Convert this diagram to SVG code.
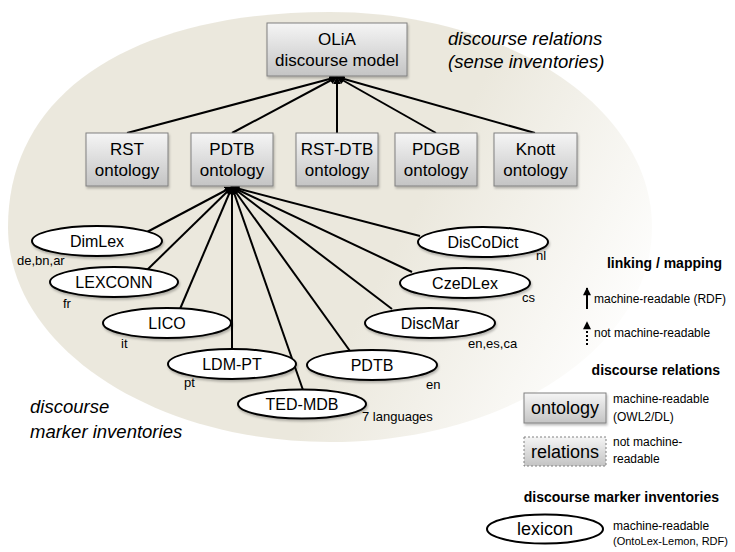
<svg xmlns="http://www.w3.org/2000/svg" width="735" height="552" viewBox="0 0 735 552">
<defs>
<style>
text{font-family:"Liberation Sans",Arial,sans-serif;fill:#000}
.box{fill:url(#boxg);stroke:#808080;stroke-width:1;filter:url(#sh)}
.bt{font-size:17px;text-anchor:middle}
.ell{fill:#fff;stroke:#000;stroke-width:2;filter:url(#sh)}
.et{font-size:16px;text-anchor:middle}
.lang{font-size:13px}
.it{font-size:18.5px;font-style:italic}
.hd{font-size:14px;font-weight:bold;text-anchor:end}
.lg{font-size:12px}
.conn line{stroke:#000;stroke-width:2;marker-end:url(#arr)}
</style>
<linearGradient id="boxg" x1="0" y1="0" x2="0" y2="1">
<stop offset="0" stop-color="#f5f5f5"/>
<stop offset="1" stop-color="#c4c4c4"/>
</linearGradient>
<linearGradient id="bg" gradientUnits="userSpaceOnUse" x1="420" y1="200" x2="650" y2="320">
<stop offset="0" stop-color="#ebe8dd"/>
<stop offset="1" stop-color="#ffffff"/>
</linearGradient>
<filter id="sh" x="-10%" y="-10%" width="130%" height="140%">
<feDropShadow dx="1" dy="2" stdDeviation="1.2" flood-color="#000" flood-opacity="0.25"/>
</filter>
<marker id="arr" viewBox="0 0 10 10" refX="9" refY="5" markerWidth="4" markerHeight="4" orient="auto">
<path d="M0,0 L10,5 L0,10 z" fill="#000"/>
</marker>
<marker id="arrL" viewBox="0 0 10 10" refX="9" refY="5" markerWidth="5" markerHeight="4" orient="auto">
<path d="M0,0 L10,5 L0,10 z" fill="#000"/>
</marker>
</defs>

<path id="background" d="M8,227 C8,94 130,12 330,12 C508,12 652,108 652,227 C652,346 508,442 330,442 C152,442 8,346 8,227 Z" fill="url(#bg)"/>

<text class="it" x="448" y="45">discourse relations</text>
<text class="it" x="448" y="68">(sense inventories)</text>
<text class="it" x="30" y="413">discourse</text>
<text class="it" x="30" y="438">marker inventories</text>

<g class="conn" id="connectors">
<line x1="127" y1="133" x2="337" y2="77"/>
<line x1="232" y1="133" x2="337" y2="77"/>
<line x1="337" y1="133" x2="337" y2="77"/>
<line x1="436" y1="133" x2="337" y2="77"/>
<line x1="535" y1="133" x2="337" y2="77"/>
<line x1="147" y1="232" x2="232" y2="187"/>
<line x1="147" y1="270" x2="232" y2="187"/>
<line x1="180" y1="309" x2="232" y2="187"/>
<line x1="232" y1="349" x2="232" y2="187"/>
<line x1="303" y1="390" x2="232" y2="187"/>
<line x1="350" y1="351" x2="232" y2="187"/>
<line x1="392" y1="309" x2="232" y2="187"/>
<line x1="412" y1="272" x2="232" y2="187"/>
<line x1="420" y1="236" x2="232" y2="187"/>
</g>

<g id="olia"><rect class="box" x="267" y="23" width="140" height="53"/><text class="bt" x="337" y="45">OLiA</text><text class="bt" x="337" y="66">discourse model</text></g>
<g id="rst"><rect class="box" x="86" y="133" width="82" height="53"/><text class="bt" x="127" y="155">RST</text><text class="bt" x="127" y="176">ontology</text></g>
<g id="pdtb-ont"><rect class="box" x="191" y="133" width="82" height="53"/><text class="bt" x="232" y="155">PDTB</text><text class="bt" x="232" y="176">ontology</text></g>
<g id="rstdtb"><rect class="box" x="296" y="133" width="82" height="53"/><text class="bt" x="337" y="155">RST-DTB</text><text class="bt" x="337" y="176">ontology</text></g>
<g id="pdgb"><rect class="box" x="395" y="133" width="82" height="53"/><text class="bt" x="436" y="155">PDGB</text><text class="bt" x="436" y="176">ontology</text></g>
<g id="knott"><rect class="box" x="494" y="133" width="83" height="53"/><text class="bt" x="535.5" y="155">Knott</text><text class="bt" x="535.5" y="176">ontology</text></g>

<g id="dimlex"><ellipse class="ell" cx="97" cy="241" rx="65" ry="15"/><text class="et" x="97" y="247">DimLex</text><text class="lang" x="17" y="265">de,bn,ar</text></g>
<g id="lexconn"><ellipse class="ell" cx="114" cy="282" rx="64" ry="15"/><text class="et" x="114" y="288">LEXCONN</text><text class="lang" x="63" y="308">fr</text></g>
<g id="lico"><ellipse class="ell" cx="167" cy="323" rx="64" ry="15"/><text class="et" x="167" y="329">LICO</text><text class="lang" x="121" y="348">it</text></g>
<g id="ldmpt"><ellipse class="ell" cx="232" cy="364" rx="64" ry="15"/><text class="et" x="232" y="370">LDM-PT</text><text class="lang" x="184" y="387">pt</text></g>
<g id="tedmdb"><ellipse class="ell" cx="302" cy="404" rx="64" ry="14.5"/><text class="et" x="302" y="410">TED-MDB</text><text class="lang" x="362" y="421">7 languages</text></g>
<g id="pdtb"><ellipse class="ell" cx="372" cy="365" rx="65" ry="15"/><text class="et" x="372" y="371">PDTB</text><text class="lang" x="426" y="389">en</text></g>
<g id="discmar"><ellipse class="ell" cx="430" cy="323" rx="65" ry="15"/><text class="et" x="430" y="329">DiscMar</text><text class="lang" x="468" y="348">en,es,ca</text></g>
<g id="czedlex"><ellipse class="ell" cx="465" cy="283" rx="65" ry="15"/><text class="et" x="465" y="289">CzeDLex</text><text class="lang" x="522" y="302">cs</text></g>
<g id="discodict"><ellipse class="ell" cx="483" cy="242" rx="65" ry="15"/><text class="et" x="483" y="248">DisCoDict</text><text class="lang" x="536" y="260">nl</text></g>

<g id="legend">
<text class="hd" x="722" y="268">linking / mapping</text>
<line x1="587" y1="309" x2="587" y2="288" stroke="#000" stroke-width="2" marker-end="url(#arrL)"/>
<text class="lg" x="594" y="303">machine-readable (RDF)</text>
<line x1="587" y1="345" x2="587" y2="322" stroke="#000" stroke-width="2" stroke-dasharray="2,2" marker-end="url(#arrL)"/>
<text class="lg" x="594" y="337">not machine-readable</text>
<text class="hd" x="720" y="375">discourse relations</text>
<rect class="box" x="524" y="393" width="82" height="30"/>
<text x="565" y="414" font-size="18" text-anchor="middle">ontology</text>
<text class="lg" x="613" y="403">machine-readable</text>
<text class="lg" x="613" y="421">(OWL2/DL)</text>
<rect x="524" y="437" width="82" height="29" fill="url(#boxg)" stroke="#808080" stroke-width="1" stroke-dasharray="2,2"/>
<text x="565" y="458" font-size="18" text-anchor="middle">relations</text>
<text class="lg" x="613" y="446">not machine-</text>
<text class="lg" x="613" y="463">readable</text>
<text class="hd" x="719" y="502">discourse marker inventories</text>
<ellipse cx="545" cy="529" rx="58" ry="14.5" fill="#fff" stroke="#000" stroke-width="2"/>
<text x="545" y="535" font-size="18" text-anchor="middle">lexicon</text>
<text class="lg" x="613" y="530">machine-readable</text>
<text x="613" y="545" font-size="11">(OntoLex-Lemon, RDF)</text>
</g>
</svg>
